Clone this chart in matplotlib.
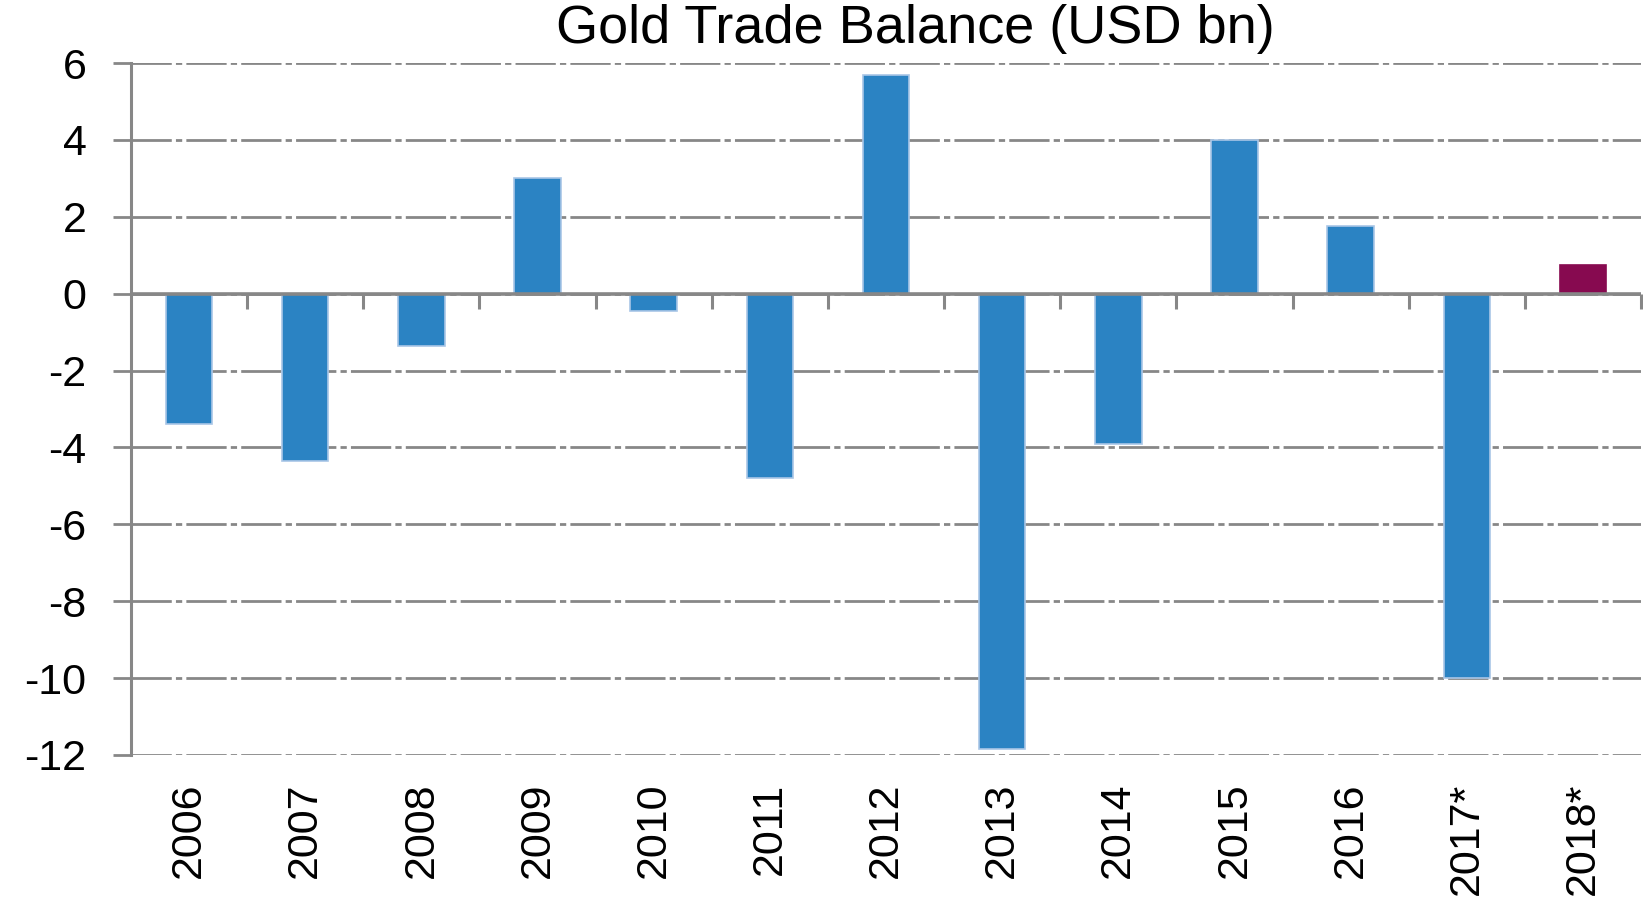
import matplotlib.pyplot as plt

years = ['2006', '2007', '2008', '2009', '2010', '2011', '2012',
         '2013', '2014', '2015', '2016', '2017*', '2018*']
balance = [-3.4, -4.35, -1.35, 3.0, -0.45, -4.8, 5.7,
           -11.85, -3.9, 4.0, 1.77, -10.0, 0.75]
yticks = [6, 4, 2, 0, -2, -4, -6, -8, -10, -12]

blue = '#2b83c3'
purple = '#870a50'
grey = '#878787'

plt.rcParams['font.family'] = ['Liberation Sans', 'DejaVu Sans']
plt.rcParams['axes.unicode_minus'] = False
plt.rcParams['lines.scale_dashes'] = False

fig = plt.figure(figsize=(16.43, 9), dpi=100)
ax = fig.add_axes([131 / 1643, 1 - 755 / 900, 1510 / 1643, 692 / 900])

x = list(range(len(years)))
colors = [blue] * (len(years) - 1) + [purple]
edges = ['#a9c6e6'] * (len(years) - 1) + [purple]
ax.bar(x, balance, width=0.4, color=colors, edgecolor=edges, linewidth=1.2, zorder=2)

ax.set_xlim(-0.5, len(years) - 0.5)
ax.set_ylim(-12, 6)
ax.set_yticks(yticks)
ax.set_yticklabels([str(v) for v in yticks])
ax.set_axisbelow(True)
ax.yaxis.grid(True, color=grey, linewidth=2, linestyle=(0, (29, 3, 4.5, 3)))
ax.axhline(0, color=grey, linewidth=2.6, zorder=3)

for s in ['top', 'right', 'bottom']:
    ax.spines[s].set_visible(False)
ax.spines['left'].set_color(grey)
ax.spines['left'].set_linewidth(2.2)

ax.tick_params(axis='y', direction='out', length=13, width=2, color=grey,
               pad=19, labelsize=31, labelcolor='black')
ax.set_xticks(x)
ax.set_xticklabels(years, rotation=90, fontsize=31, va='top', ha='center')
ax.tick_params(axis='x', length=0, pad=20)

# category separators hanging from the zero line
zero = ax.secondary_xaxis(12 / 18)
for s in zero.spines.values():
    s.set_visible(False)
zero.set_xticks([i + 0.5 for i in x])
zero.set_xticklabels([])
zero.tick_params(direction='in', length=11, width=2.2, color=grey)

fig.text(0.557, 0.968, 'Gold Trade Balance (USD bn)', fontsize=39,
         ha='center', va='center')

fig.savefig('out.png', dpi=100)
